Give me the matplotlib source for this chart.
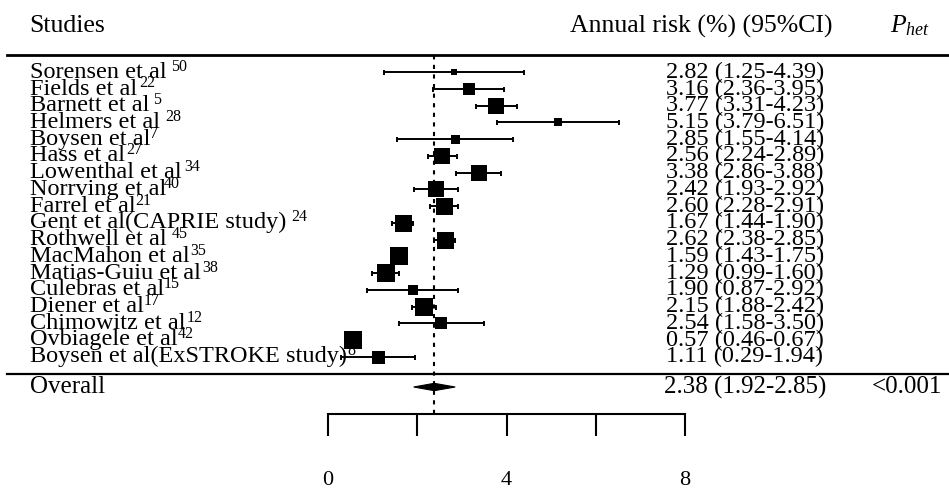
import numpy as np
import matplotlib
matplotlib.use("Agg")
import matplotlib.pyplot as plt
from matplotlib import transforms
from matplotlib.lines import Line2D
from matplotlib.patches import Polygon

# ---------------- data ----------------
studies = [
    "Sorensen et al", "Fields et al", "Barnett et al", "Helmers et al",
    "Boysen et al", "Hass et al", "Lowenthal et al", "Norrving et al",
    "Farrel et al", "Gent et al(CAPRIE study)", "Rothwell et al",
    "MacMahon et al", "Matias-Guiu et al", "Culebras et al", "Diener et al",
    "Chimowitz et al", "Ovbiagele et al", "Boysen et al(ExSTROKE study)",
]
refs = ["50", "22", "5", "28", "7", "27", "34", "40", "21", "24", "45",
        "35", "38", "15", "17", "12", "42", "8"]
risk = [2.82, 3.16, 3.77, 5.15, 2.85, 2.56, 3.38, 2.42, 2.60, 1.67, 2.62,
        1.59, 1.29, 1.90, 2.15, 2.54, 0.57, 1.11]
ci_low = [1.25, 2.36, 3.31, 3.79, 1.55, 2.24, 2.86, 1.93, 2.28, 1.44, 2.38,
          1.43, 0.99, 0.87, 1.88, 1.58, 0.46, 0.29]
ci_high = [4.39, 3.95, 4.23, 6.51, 4.14, 2.89, 3.88, 2.92, 2.91, 1.90, 2.85,
           1.75, 1.60, 2.92, 2.42, 3.50, 0.67, 1.94]
# study weight shown as box size (pixels)
box_px = [5.5, 12.7, 16, 8, 9, 16.7, 16, 16.3, 17, 17, 17, 17.7, 17.3,
          10.7, 17.3, 12, 17.7, 13]
overall_risk = 2.38
overall_low = 1.92
overall_high = 2.85
p_het = "<0.001"
xtick_values = [0, 2, 4, 6, 8]
xtick_labels = ["0", "", "4", "", "8"]

# ---------------- style ----------------
plt.rcParams["font.family"] = ["Liberation Serif", "DejaVu Serif"]
plt.rcParams["mathtext.fontset"] = "custom"
plt.rcParams["mathtext.rm"] = "Liberation Serif"
plt.rcParams["mathtext.it"] = "Liberation Serif:italic"

W, H = 949, 491
fig = plt.figure(figsize=(W / 100, H / 100), dpi=100)

def fx(px):
    return px / W

def fy(py):
    return 1 - py / H

ax_left, ax_right, ax_top, ax_bot = 328, 685, 55, 414
ax = fig.add_axes([fx(ax_left), fy(ax_bot), fx(ax_right - ax_left),
                   (ax_bot - ax_top) / H])
ax.patch.set_alpha(0)

row0, drow = 72.3, 16.73
def row_of(py):
    return (py - row0) / drow

ax.set_xlim(0, 8)
ax.set_ylim(row_of(ax_bot), row_of(ax_top))

n = len(studies)
ypos = np.arange(n)
overall_y = row_of(387)
sep_y = 374

risk_a = np.array(risk)
lo_a = np.array(ci_low)
hi_a = np.array(ci_high)

# dashed reference line at overall estimate
ax.axvline(overall_risk, color="black", lw=1.5, ls=(0, (2, 2.6)), zorder=1)

# whiskers
ax.errorbar(risk_a, ypos, xerr=[risk_a - lo_a, hi_a - risk_a], fmt="none",
            ecolor="black", elinewidth=1.4, capsize=1.8, capthick=1.4,
            zorder=2)
# boxes
for x, y, s in zip(risk_a, ypos, box_px):
    ax.plot([x], [y], marker="s", ms=s * 0.72, color="black", mew=0,
            zorder=3)

# diamond for overall
h = 0.22
ax.add_patch(Polygon([(overall_low, overall_y), (overall_risk, overall_y - h),
                      (overall_high, overall_y), (overall_risk, overall_y + h)],
                     closed=True, facecolor="black", edgecolor="black",
                     lw=0.8, zorder=3))

# axis
for side in ("top", "left", "right"):
    ax.spines[side].set_visible(False)
ax.spines["bottom"].set_linewidth(1.5)
ax.set_yticks([])
ax.set_xticks(xtick_values)
ax.set_xticklabels(xtick_labels)
ax.tick_params(axis="x", direction="out", length=15.8, width=1.5, pad=25,
               labelsize=16)

# texts
trans = transforms.blended_transform_factory(fig.transFigure, ax.transData)
fs = 17.5
sup_gap = [4, 2, 4, 5, 0, 1, 3, -2, 0, 5, 5, 1, 1, 0, 0, 1, 0, 0]
for i, (name, ref) in enumerate(zip(studies, refs)):
    t = ax.text(fx(30), ypos[i], name, transform=trans, ha="left",
                va="center", fontsize=fs)
    ax.annotate(ref, xy=(1, 0.5), xycoords=t,
                xytext=(sup_gap[i] * 0.72, 4.0), textcoords="offset points",
                ha="left", va="center", fontsize=11.5)
    ax.text(fx(745), ypos[i],
            f"{risk[i]:.2f} ({ci_low[i]:.2f}-{ci_high[i]:.2f})",
            transform=trans, ha="center", va="center", fontsize=fs)

ax.text(fx(30), overall_y, "Overall", transform=trans, ha="left",
        va="center", fontsize=18)
ax.text(fx(745), overall_y,
        f"{overall_risk:.2f} ({overall_low:.2f}-{overall_high:.2f})",
        transform=trans, ha="center", va="center", fontsize=18)
ax.text(fx(942), overall_y, p_het, transform=trans, ha="right",
        va="center", fontsize=18)

# headers
fig.text(fx(29), fy(26), "Studies", ha="left", va="center", fontsize=18.5)
fig.text(fx(833), fy(26), "Annual risk (%) (95%CI)", ha="right",
         va="center", fontsize=18.5)
fig.text(fx(890), fy(26), r"$P_{het}$", ha="left", va="center",
         fontsize=18.5)

# horizontal rules
fig.add_artist(Line2D([fx(7), 1], [fy(55), fy(55)], color="black", lw=2.0))
fig.add_artist(Line2D([fx(7), 1], [fy(sep_y), fy(sep_y)], color="black",
                      lw=1.6))

fig.savefig("out.png", dpi=100)
